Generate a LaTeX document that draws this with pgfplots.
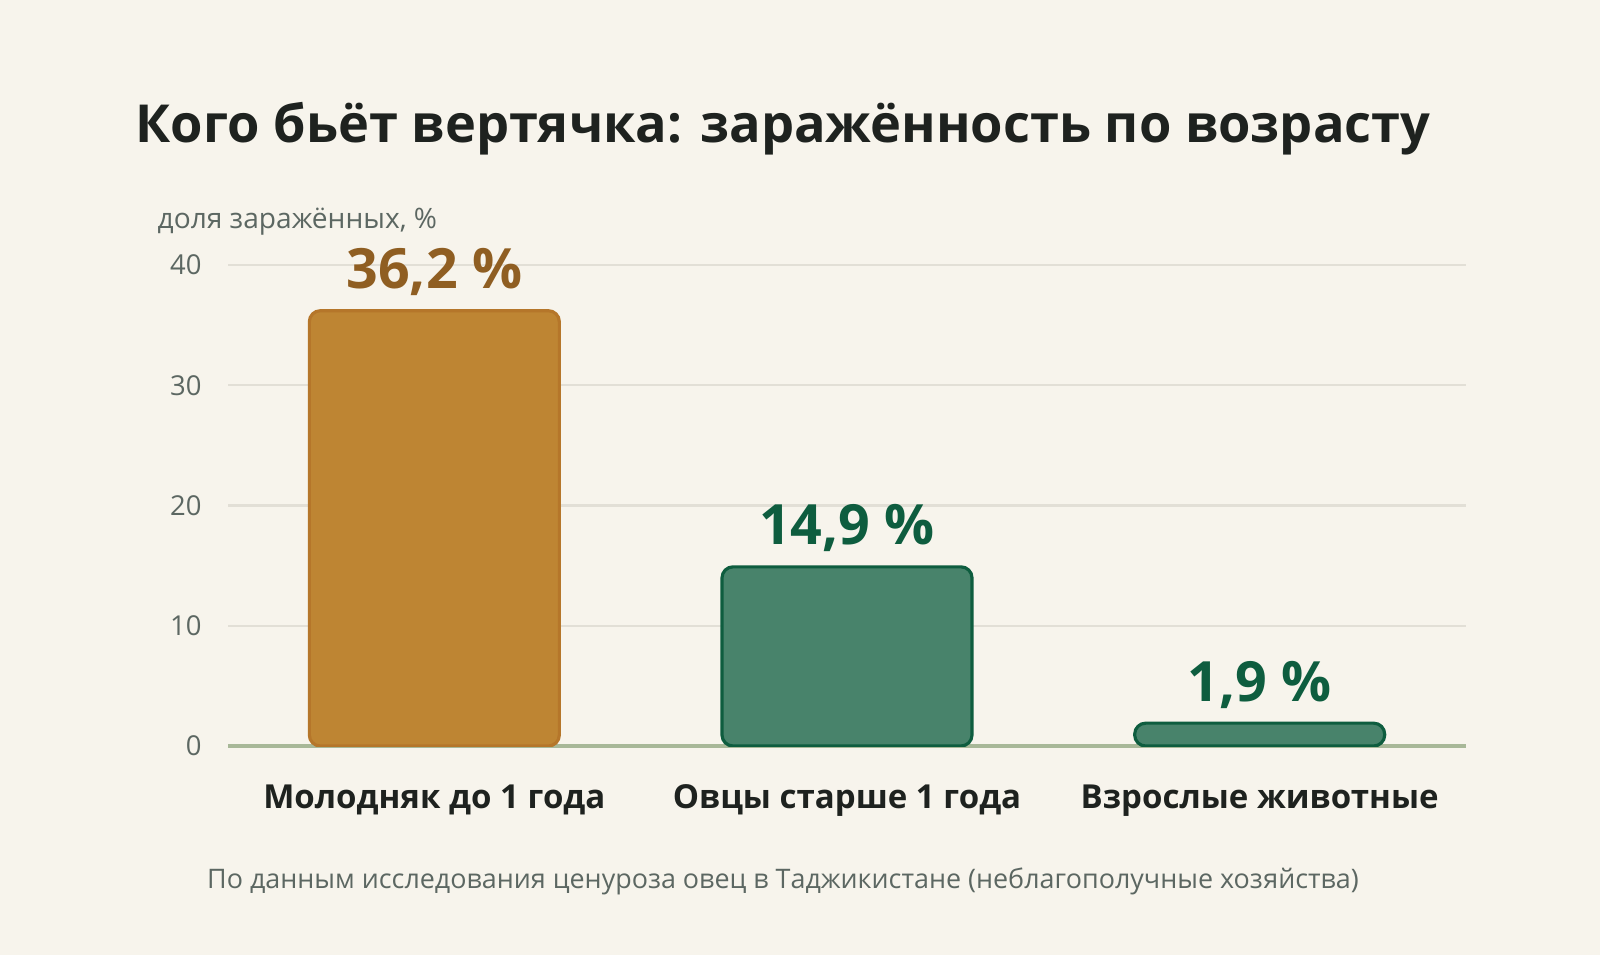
\documentclass[border=0pt]{standalone}
\usepackage{fontspec}
\setmainfont{Open Sans}
\usepackage{pgfplots}
\pgfplotsset{compat=1.18}

\definecolor{bg}{HTML}{F7F4EC}
\definecolor{titlec}{HTML}{1E221F}
\definecolor{grayt}{HTML}{5C6762}
\definecolor{gridc}{HTML}{E2DFD6}
\definecolor{basec}{HTML}{A8B898}
\definecolor{ochre}{HTML}{BE8533}
\definecolor{ochreline}{HTML}{B5762A}
\definecolor{ochretext}{HTML}{8F5E22}
\definecolor{sage}{HTML}{48836B}
\definecolor{sageline}{HTML}{0E5D3F}

\begin{document}
\begin{tikzpicture}
\fill[bg] (0,0) rectangle (16,9.55);
\useasboundingbox (0,0) rectangle (16,9.55);

\node[anchor=base, text=titlec, font=\bfseries\fontsize{14.9}{18}\selectfont]
  at (7.83,8.12) {Кого бьёт вертячка: заражённость по возрасту};
\node[anchor=base west, text=grayt, font=\fontsize{8}{10}\selectfont, inner sep=0pt]
  at (1.57,7.26) {доля заражённых, \%};

\begin{axis}[
    at={(2.28cm,2.09cm)}, anchor=south west,
    scale only axis,
    width=12.38cm, height=4.81cm,
    xmin=-0.5, xmax=2.5,
    ymin=0, ymax=40,
    axis line style={draw=none},
    major tick length=0pt,
    ytick={10,20,30,40},
    extra y ticks={0},
    extra y tick style={grid style={color=basec, line width=0.9pt}},
    ymajorgrids,
    grid style={color=gridc, line width=0.6pt},
    xtick={0,1,2},
    xticklabels={Молодняк до 1 года, Овцы старше 1 года, Взрослые животные},
    xticklabel style={anchor=base, yshift=-0.62cm, text=titlec,
        font=\bfseries\fontsize{9.4}{11}\selectfont},
    yticklabel style={text=grayt, font=\fontsize{7.8}{10}\selectfont, xshift=-0.14cm},
    /pgf/number format/assume math mode=true,
    point meta=explicit symbolic,
    nodes near coords,
    nodes near coords style={anchor=base, yshift=0.22cm,
        font=\bfseries\fontsize{15.8}{18}\selectfont},
]
\addplot[ybar, bar shift=0pt, bar width=2.5cm, rounded corners=1.1mm,
    fill=ochre, draw=ochreline, line width=0.9pt,
    nodes near coords style={text=ochretext}]
    coordinates {(0,36.2) [36,2~\%]};
\addplot[ybar, bar shift=0pt, bar width=2.5cm, rounded corners=1.1mm,
    fill=sage, draw=sageline, line width=0.9pt,
    nodes near coords style={text=sageline}]
    coordinates {(1,14.9) [14,9~\%] (2,1.9) [1,9~\%]};
\end{axis}

\node[anchor=base, text=grayt, font=\fontsize{7.65}{10}\selectfont]
  at (7.83,0.67) {По данным исследования ценуроза овец в Таджикистане (неблагополучные хозяйства)};
\end{tikzpicture}
\end{document}
